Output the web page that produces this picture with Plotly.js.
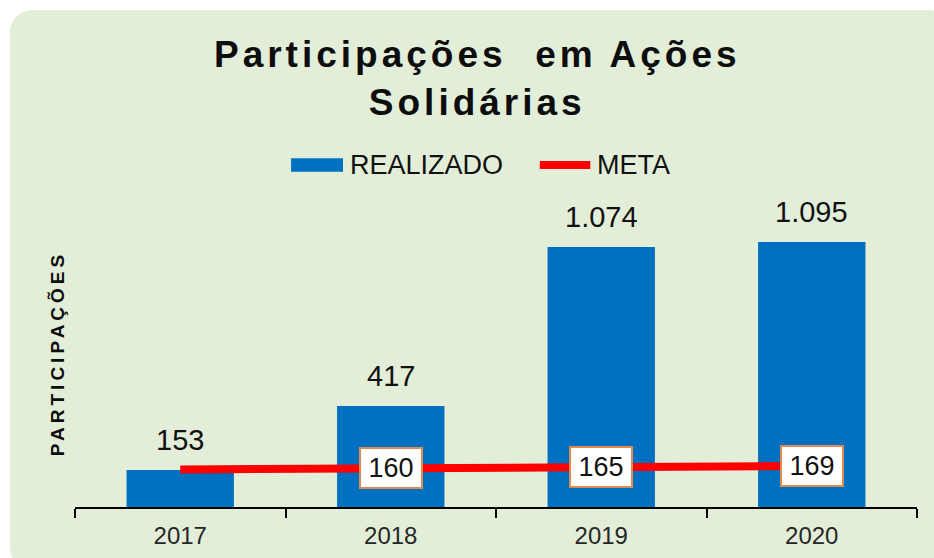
<!DOCTYPE html>
<html>
<head>
<meta charset="utf-8">
<script src="https://cdn.plot.ly/plotly-3.0.1.min.js"></script>
<style>
  html, body { margin: 0; padding: 0; background: #ffffff; }
  #wrap { position: relative; width: 934px; height: 558px; overflow: hidden; }
  #bg { position: absolute; left: 10px; top: 10px; width: 940px; height: 560px;
        background: #e3eed9; border-radius: 22px; }
  #chart { position: absolute; left: 0; top: 0; width: 934px; height: 558px; }
  .gtitle { letter-spacing: 4px; }
  .ytitle { letter-spacing: 4px; }
</style>
</head>
<body>
<div id="wrap">
  <div id="bg"></div>
  <div id="chart"></div>
</div>
<script>
const categories = ['2017', '2018', '2019', '2020'];
const realizado = [153, 417, 1074, 1095];
const realizadoLabels = ['153', '417', '1.074', '1.095'];
const meta = [155, 160, 165, 169];
const metaLabels = ['', '160', '165', '169'];
const seriesNames = ['REALIZADO', 'META'];
const titleText = 'Participações  em Ações<br>Solidárias';
const yTitle = 'PARTICIPAÇÕES';

const FONT = 'Liberation Sans, Arial, sans-serif';
const BLUE = '#0070c0';
const RED = '#ff0000';

const barTrace = {
  type: 'bar',
  name: seriesNames[0],
  x: categories,
  y: realizado,
  marker: { color: BLUE },
  showlegend: false
};

const lineTrace = {
  type: 'scatter',
  mode: 'lines',
  name: seriesNames[1],
  x: categories,
  y: meta,
  line: { color: RED, width: 8 },
  showlegend: false
};

const annotations = [];
categories.forEach((c, i) => {
  annotations.push({
    x: i, y: realizado[i], xref: 'x', yref: 'y',
    text: realizadoLabels[i], showarrow: false,
    font: { family: FONT, size: 29, color: '#111111' },
    xanchor: 'center', yanchor: 'bottom', yshift: 12
  });
  if (metaLabels[i]) {
    annotations.push({
      x: i, y: meta[i], xref: 'x', yref: 'y',
      text: metaLabels[i], showarrow: false,
      font: { family: FONT, size: 27, color: '#111111' },
      bgcolor: '#ffffff', bordercolor: '#e08a50', borderwidth: 2,
      borderpad: 5, width: 50, height: 28,
      xanchor: 'center', yanchor: 'middle'
    });
  }
});

// legend drawn in paper space (above the plot area)
const LEG_Y = 1.114;
annotations.push({
  x: 0.324, y: LEG_Y, xref: 'paper', yref: 'paper',
  text: seriesNames[0], showarrow: false, xanchor: 'left', yanchor: 'middle',
  font: { family: FONT, size: 27, color: '#111111' }
});
annotations.push({
  x: 0.617, y: LEG_Y, xref: 'paper', yref: 'paper',
  text: seriesNames[1], showarrow: false, xanchor: 'left', yanchor: 'middle',
  font: { family: FONT, size: 27, color: '#111111' }
});
const shapes = [
  { type: 'rect', xref: 'paper', yref: 'paper',
    x0: 0.2566, x1: 0.3183, y0: LEG_Y - 0.022, y1: LEG_Y + 0.022,
    fillcolor: BLUE, line: { width: 0 } },
  { type: 'line', xref: 'paper', yref: 'paper',
    x0: 0.552, x1: 0.612, y0: LEG_Y, y1: LEG_Y,
    line: { color: RED, width: 8 } }
];

const layout = {
  width: 934, height: 558,
  paper_bgcolor: 'rgba(0,0,0,0)',
  plot_bgcolor: 'rgba(0,0,0,0)',
  margin: { l: 75, r: 17, t: 200, b: 51 },
  bargap: 0.49,
  showlegend: false,
  title: {
    text: titleText,
    font: { family: FONT, size: 37, color: '#0d0d0d', weight: 'bold' },
    x: 0.511, xref: 'container', xanchor: 'center',
    y: 0.88, yref: 'container', yanchor: 'middle'
  },
  xaxis: {
    type: 'category',
    range: [-0.5, 3.5],
    showline: true, linecolor: '#000000', linewidth: 2,
    ticks: 'outside', tickson: 'boundaries', ticklen: 9, tickwidth: 2, tickcolor: '#000000',
    ticklabelstandoff: 6,
    tickfont: { family: FONT, size: 24, color: '#262626' },
    showgrid: false, zeroline: false, fixedrange: true
  },
  yaxis: {
    range: [0, 1268],
    showticklabels: false, showgrid: false, zeroline: false, showline: false, ticks: '',
    title: { text: yTitle, font: { family: FONT, size: 19, color: '#0d0d0d', weight: 'bold' }, standoff: 4 },
    fixedrange: true
  },
  shapes: shapes,
  annotations: annotations
};

Plotly.newPlot('chart', [barTrace, lineTrace], layout, { displayModeBar: false, staticPlot: true });
</script>
</body>
</html>
